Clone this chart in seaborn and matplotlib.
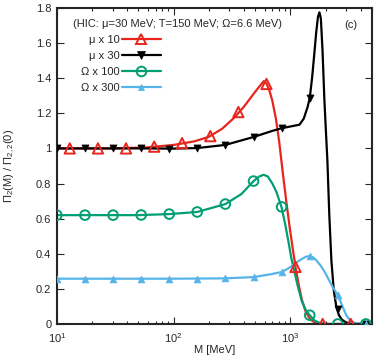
import numpy as np
import pandas as pd
import matplotlib
matplotlib.use("Agg")
import matplotlib.pyplot as plt
from matplotlib.lines import Line2D
from matplotlib.ticker import FuncFormatter, LogLocator
import seaborn as sns

# curves, M in MeV
red_M = [10, 30, 60, 100, 150, 200, 260, 330, 400, 470, 530, 590, 623, 660, 700, 750, 800,
         860, 920, 980, 1040, 1104, 1170, 1250, 1350, 1480, 1650, 2000, 5000]
red_val = [1.0, 1.0, 1.006, 1.02, 1.04, 1.066, 1.112, 1.175, 1.238, 1.30, 1.345, 1.383, 1.37, 1.33, 1.27,
           1.17, 1.04, 0.86, 0.70, 0.56, 0.44, 0.325, 0.23, 0.14, 0.07, 0.025, 0.005, 0.0, 0.0]

black_M = [10, 50, 100, 159, 277, 483, 700, 840, 1000, 1194, 1300, 1400, 1462, 1530, 1600, 1660,
           1720, 1770, 1820, 1880, 1950, 2010, 2070, 2150, 2240, 2350, 2473, 2600, 2750, 3000, 3400, 5000]
black_val = [1.0, 1.0, 0.999, 1.002, 1.02, 1.065, 1.10, 1.115, 1.125, 1.135, 1.17, 1.235, 1.287, 1.40,
             1.54, 1.66, 1.75, 1.775, 1.74, 1.56, 1.28, 1.10, 0.93, 0.62, 0.36, 0.19, 0.095, 0.05,
             0.025, 0.008, 0.001, 0.0]

green_M = [10, 50, 92, 159, 277, 380, 483, 540, 590, 640, 700, 760, 837, 900, 960, 1020, 1080,
           1150, 1250, 1350, 1462, 1600, 1800, 2100, 5000]
green_val = [0.62, 0.62, 0.626, 0.638, 0.683, 0.74, 0.814, 0.84, 0.85, 0.84, 0.80, 0.75, 0.667,
             0.57, 0.47, 0.37, 0.30, 0.22, 0.13, 0.08, 0.05, 0.02, 0.005, 0.0, 0.0]

blue_M = [10, 100, 277, 483, 700, 840, 950, 1050, 1150, 1250, 1350, 1462, 1560, 1680, 1800,
          1950, 2100, 2300, 2541, 2750, 3000, 3300, 3700, 5000]
blue_val = [0.258, 0.258, 0.26, 0.267, 0.285, 0.296, 0.315, 0.335, 0.355, 0.37, 0.383, 0.387,
            0.38, 0.36, 0.335, 0.30, 0.26, 0.21, 0.165, 0.11, 0.05, 0.015, 0.003, 0.0]

# point symbols
mk_M = [10, 17.4, 30.3, 52.7, 91.6, 159, 277, 483, 840, 1462, 2541, 4420]
red_mk_M = [12.9, 22.5, 39.1, 68.1, 118, 206, 358, 623, 1104, 1886, 3281]
red_mk = [1.0, 1.0, 1.0, 1.01, 1.03, 1.07, 1.207, 1.367, 0.325, 0.0, 0.0]
black_mk = [1.0, 1.0, 1.0, 1.0, 0.998, 1.002, 1.02, 1.065, 1.115, 1.287, 0.085, 0.0]
green_mk = [0.62, 0.62, 0.62, 0.621, 0.626, 0.638, 0.683, 0.814, 0.667, 0.05, 0.0, 0.0]
blue_mk = [0.258, 0.258, 0.258, 0.258, 0.258, 0.258, 0.26, 0.267, 0.296, 0.387, 0.165, 0.0]

labels = ["μ x 10", "μ x 30", "Ω x 100", "Ω x 300"]
colors = ["#e8251d", "#000000", "#009e73", "#56b4e9"]

curves = pd.concat([
    pd.DataFrame({"M": red_M, "val": red_val, "series": labels[0]}),
    pd.DataFrame({"M": black_M, "val": black_val, "series": labels[1]}),
    pd.DataFrame({"M": green_M, "val": green_val, "series": labels[2]}),
    pd.DataFrame({"M": blue_M, "val": blue_val, "series": labels[3]}),
])
points = [
    (red_mk_M, red_mk, "^", 55, True),
    (mk_M, black_mk, "v", 26, False),
    (mk_M, green_mk, "o", 48, True),
    (mk_M, blue_mk, "^", 24, False),
]

sns.set_style("ticks")
plt.rcParams["font.family"] = ["Liberation Sans", "DejaVu Sans"]
plt.rcParams["font.size"] = 8
plt.rcParams["mathtext.fontset"] = "custom"
plt.rcParams["mathtext.rm"] = "Liberation Sans"
plt.rcParams["mathtext.it"] = "Liberation Sans:italic"

fig = plt.figure(figsize=(3.74, 3.62), dpi=100)
ax = fig.add_axes([0.152, 0.105, 0.843, 0.873])

sns.lineplot(data=curves, x="M", y="val", hue="series", palette=dict(zip(labels, colors)),
             estimator=None, legend=False, linewidth=1.6, ax=ax)

handles = []
for (xs, ys, m, s, hollow), c in zip(points, colors):
    fc = "none" if hollow else c
    sns.scatterplot(x=xs, y=ys, marker=m, s=s, facecolor=fc, edgecolor=c,
                    linewidth=1.4 if hollow else 0.5, zorder=3, ax=ax)
    handles.append(Line2D([], [], color=c, lw=1.6, marker=m, ms=np.sqrt(s),
                          mfc=fc, mec=c, mew=1.4 if hollow else 0.5))

ax.set_xscale("log")
ax.set_xlim(10, 5000)
ax.set_ylim(0, 1.8)
ax.set_yticks(np.arange(0, 1.81, 0.2))
ax.yaxis.set_major_formatter(FuncFormatter(lambda v, p: f"{v:g}"))
ax.xaxis.set_minor_locator(LogLocator(base=10, subs=np.arange(2, 10)))
ax.tick_params(which="both", direction="in", top=True, right=True, width=0.8, labelsize=8)
ax.tick_params(which="major", length=5, pad=4)
ax.tick_params(axis="x", which="major", pad=5)
ax.tick_params(which="minor", length=2.5)
for sp in ax.spines.values():
    sp.set_linewidth(1.5)

ax.set_xlabel("M [MeV]", fontsize=8)
ax.set_ylabel("Π$_2$(M) / Π$_{2,2}$(0)", fontsize=8)
ax.xaxis.set_label_coords(0.5, -0.065)
ax.yaxis.set_label_coords(-0.125, 0.5)

ax.text(0.051, 0.949, "(HIC: μ=30 MeV; T=150 MeV; Ω=6.6 MeV)", transform=ax.transAxes,
        ha="left", va="center", fontsize=8)
ax.text(0.933, 0.946, "(c)", transform=ax.transAxes, ha="center", va="center", fontsize=8)

ax.legend(handles, labels, loc="upper right", bbox_to_anchor=(0.33, 0.915), frameon=False,
          markerfirst=False, handlelength=3.5, handletextpad=0.2, labelspacing=0.55,
          borderpad=0, borderaxespad=0, fontsize=8)

fig.savefig("out.png", dpi=100)
